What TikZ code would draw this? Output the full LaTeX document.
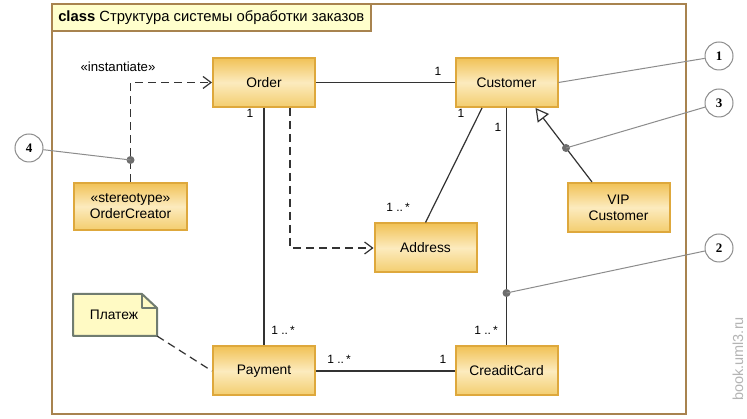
\documentclass[tikz,border=0pt]{standalone}
\usepackage{fontspec}
\setmainfont{Liberation Sans}
\newfontfamily\calloutfont{Liberation Serif}
\usetikzlibrary{arrows.meta,shapes.misc,calc}
\definecolor{boxtop}{HTML}{F1C257}
\definecolor{boxmid}{HTML}{FCEBBE}
\definecolor{boxbot}{HTML}{F3CD6E}
\definecolor{boxborder}{HTML}{DEA83C}
\definecolor{framecol}{HTML}{A8834F}
\definecolor{titlefill}{HTML}{FFFFCC}
\definecolor{notefill}{HTML}{FFFAC4}
\definecolor{noteborder}{HTML}{707C70}
\definecolor{linecol}{HTML}{333333}
\definecolor{callcol}{HTML}{8C8C8C}
\definecolor{dotcol}{HTML}{6E6E6E}
\definecolor{wmcol}{HTML}{B4B4B4}
\tikzset{
  cls/.style={draw=boxborder, line width=2pt, top color=boxtop, bottom color=boxbot, middle color=boxmid,
    minimum width=102pt, minimum height=49pt, align=center, inner sep=0pt,
    font=\fontsize{13.8}{16}\selectfont},
  assoc/.style={draw=linecol, line width=1.2pt},
  dep/.style={draw=linecol, line width=1.2pt, dash pattern=on 8pt off 5pt,
    -{Straight Barb[length=8pt, width=12pt, line width=1.2pt]}},
  gen/.style={draw=linecol, line width=1.2pt,
    -{Triangle[open, length=13pt, width=14pt, line width=1.2pt, fill=white]}},
  mult/.style={font=\fontsize{12}{14}\selectfont, inner sep=0pt, text=black},
  callout/.style={circle, draw=callcol, line width=1pt, fill=white, minimum size=28pt, inner sep=0pt,
    font=\calloutfont\bfseries\fontsize{13}{15}\selectfont},
  callline/.style={draw=callcol, line width=1pt},
  calldot/.style={circle, fill=dotcol, minimum size=8pt, inner sep=0pt},
}
\newcommand{\manymult}{1 ..\,*}
\begin{document}
\begin{tikzpicture}[x=1pt, y=-1pt]
\useasboundingbox (0,0) rectangle (747,419);
\fill[white] (0,0) rectangle (747,419);
% frame
\node[draw=framecol, line width=1.6pt, anchor=north west, minimum width=634pt, minimum height=410pt, inner sep=0pt] (frame) at (51,3) {};
\node[draw=framecol, line width=1.6pt, fill=titlefill, anchor=north west, minimum width=319pt, minimum height=27pt, inner sep=0pt,
  font=\fontsize{14.8}{17}\selectfont] (title) at (51,3) {\textbf{class} Структура системы обработки заказов};

% classes
\node[cls] (order) at (264,82.5) {Order};
\node[cls] (customer) at (506.5,82.5) {Customer};
\node[cls, minimum width=113pt, minimum height=47pt] (creator) at (130.5,206.5) {«stereotype»\\OrderCreator};
\node[cls] (address) at (425.5,248) {Address};
\node[cls] (vip) at (618.5,207.5) {VIP\\Customer};
\node[cls] (payment) at (264,371) {Payment};
\node[cls] (card) at (506.5,371) {CreaditCard};

% note
\draw[draw=noteborder, fill=notefill, line width=2pt, line join=round]
  (73,294) -- (142,294) -- (157,308) -- (157,336) -- (73,336) -- cycle;
\draw[draw=noteborder, line width=2pt, line join=round] (142,294) -- (142,308) -- (157,308);
\node[font=\fontsize{13.8}{16}\selectfont, inner sep=0pt] (note) at (114,315) {Платеж};
\coordinate (noteCorner) at (157,336);

% connectors
\draw[assoc] (order) -- (customer);
\draw[assoc] (order.south) -- (payment.north);
\draw[assoc] ([xshift=-24.5pt]customer.south) -- (address.north);
\draw[assoc] (customer.south) -- (card.north);
\draw[assoc] (payment) -- (card);
\draw[dep] ([xshift=26pt]order.south) |- (address.west);
\draw[dep] (creator.north) |- (order.west);
\draw[gen] ([xshift=-26.5pt]vip.north) -- ([xshift=29pt]customer.south);
\draw[linecol, line width=1.2pt, dash pattern=on 8pt off 5pt] (noteCorner) -- (payment.west);

% multiplicities
\node[mult] (m1) at (438,71) {1};
\node[mult] (m2) at (250,113) {1};
\node[mult] (m3) at (461,113) {1};
\node[mult] (m4) at (498,127) {1};
\node[mult] (m5) at (398,207) {\manymult};
\node[mult] (m6) at (283,330) {\manymult};
\node[mult] (m7) at (339,359) {\manymult};
\node[mult] (m8) at (443,359) {1};
\node[mult] (m9) at (486,330) {\manymult};
\node[mult, font=\fontsize{13.2}{15}\selectfont] (inst) at (118,67) {«instantiate»};

% callouts
\node[calldot] (d4) at (130.5,160) {};
\node[calldot] (d3) at (566,148) {};
\node[calldot] (d2) at (506.5,293) {};
\node[callout] (c1) at (719,56) {1};
\node[callout] (c3) at (719,103) {3};
\node[callout] (c2) at (719,248) {2};
\node[callout] (c4) at (29,148) {4};
\draw[callline] (c1) -- (customer.east);
\draw[callline] (c3) -- (d3.center);
\draw[callline] (c2) -- (d2.center);
\draw[callline] (c4) -- (d4.center);

% watermark
\node[rotate=90, text=wmcol, font=\fontsize{14.5}{16}\selectfont, inner sep=0pt] (wm) at (738,359) {book.uml3.ru};
\end{tikzpicture}
\end{document}
